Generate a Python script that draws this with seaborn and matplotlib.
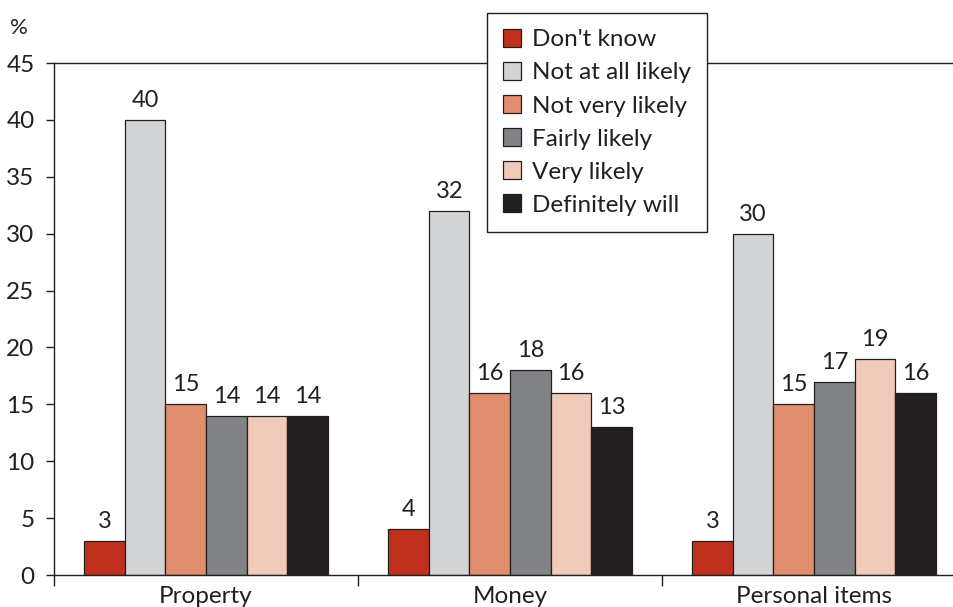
import matplotlib
matplotlib.use("Agg")
import matplotlib.pyplot as plt
from matplotlib.ticker import FixedLocator, NullFormatter
import seaborn as sns
import pandas as pd

categories = ["Property", "Money", "Personal items"]
responses = ["Don't know", "Not at all likely", "Not very likely",
             "Fairly likely", "Very likely", "Definitely will"]
values = {
    "Don't know":        [3, 4, 3],
    "Not at all likely": [40, 32, 30],
    "Not very likely":   [15, 16, 15],
    "Fairly likely":     [14, 18, 17],
    "Very likely":       [14, 16, 19],
    "Definitely will":   [14, 13, 16],
}
colors = ["#C1301C", "#D1D3D4", "#E08D70", "#808285", "#F1CBBA", "#231F20"]
y_ticks = [0, 5, 10, 15, 20, 25, 30, 35, 40, 45]

rows = [(c, r, values[r][i]) for r in responses for i, c in enumerate(categories)]
df = pd.DataFrame(rows, columns=["category", "response", "pct"])

sns.set_theme(style="white")
plt.rcParams["font.family"] = ["Lato", "DejaVu Sans"]
ink = "#231F20"

fig = plt.figure(figsize=(9.54, 6.07), dpi=100)
ax = fig.add_axes([54 / 954, 32 / 607, 912 / 954, 512 / 607])

sns.barplot(data=df, x="category", y="pct", hue="response",
            order=categories, hue_order=responses, palette=colors,
            width=0.8, edgecolor=ink, linewidth=0.9, saturation=1,
            errorbar=None, ax=ax)

for cont in ax.containers:
    ax.bar_label(cont, fmt="%d", padding=6.5, fontsize=17, color=ink)

ax.set_xlim(-0.5, 2.5)
ax.set_ylim(0, 45)
ax.set_yticks(y_ticks)
ax.set_xlabel("")
ax.set_ylabel("")

for side in ["left", "top", "bottom"]:
    ax.spines[side].set_visible(True)
    ax.spines[side].set_color(ink)
    ax.spines[side].set_linewidth(1.0)
ax.spines["right"].set_visible(False)

ax.tick_params(axis="y", which="major", direction="out", length=6, width=1.0,
               color=ink, labelsize=17.5, labelcolor=ink, pad=8, left=True)
ax.tick_params(axis="x", which="major", length=0, labelsize=17.5,
               labelcolor=ink, pad=8)
ax.xaxis.set_minor_locator(FixedLocator([-0.5, 0.5, 1.5, 2.5]))
ax.xaxis.set_minor_formatter(NullFormatter())
ax.tick_params(axis="x", which="minor", direction="out", length=8, width=1.0,
               color=ink, bottom=True)

fig.text(10 / 954, 1 - 28 / 607, "%", fontsize=16, color=ink,
         ha="left", va="center")

leg = ax.legend(loc="upper left", bbox_to_anchor=(487 / 954, 1 - 13 / 607),
                bbox_transform=fig.transFigure, title=None, fontsize=17.5,
                frameon=True, fancybox=False, framealpha=1,
                edgecolor=ink, handlelength=0.75, handleheight=0.75,
                handletextpad=0.45, labelspacing=0.48, borderpad=0.66,
                borderaxespad=0)
leg.get_frame().set_linewidth(1.0)
for t in leg.get_texts():
    t.set_color(ink)

fig.savefig("out.png", dpi=100)
